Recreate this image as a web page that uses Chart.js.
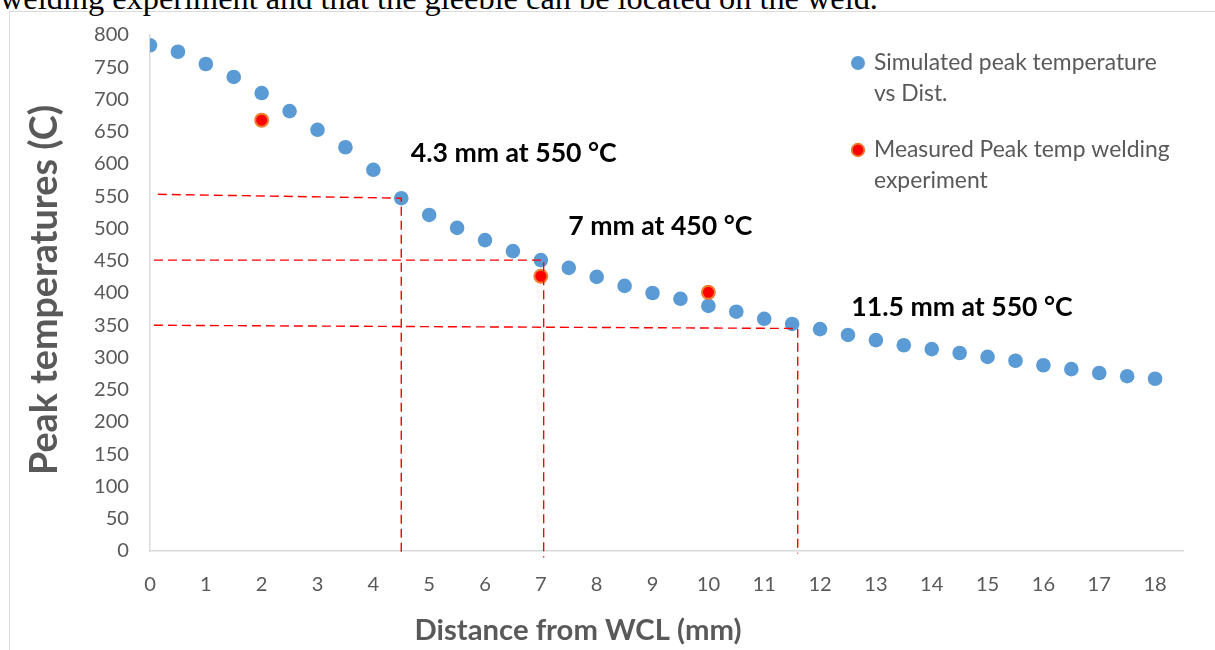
<!DOCTYPE html>
<html><head><meta charset="utf-8">
<script src="https://cdn.jsdelivr.net/npm/chart.js@4.4.1/dist/chart.umd.min.js"></script>
<style>
html,body{margin:0;padding:0;background:#fff;width:1215px;height:650px;overflow:hidden;position:relative}
#frame{position:absolute;left:9px;top:11px;width:1220px;height:700px;border:1px solid #d9d9d9;box-sizing:border-box}
#top{position:absolute;left:0;font-family:"Liberation Serif","Times New Roman",serif;color:#000;white-space:nowrap;line-height:1}
#c{position:absolute;left:0;top:0}
</style></head>
<body>
<div id="frame"></div>
<div id="top">welding experiment and that the gleeble can be located on the weld.</div>
<canvas id="c" width="1215" height="650"></canvas>
<script>
// ---- data ----
const simDist = [0,0.5,1,1.5,2,2.5,3,3.5,4,4.5,5,5.5,6,6.5,7,7.5,8,8.5,9,9.5,10,10.5,11,11.5,12,12.5,13,13.5,14,14.5,15,15.5,16,16.5,17,17.5,18];
const simTemp = [784,774,755,735,710,682,653,626,591,547,521,501,482,465,451,439,425,411,400,391,380,371,360,352,344,335,327,319,313,307,301,295,288,282,276,271,267];
const measDist = [2,7,10];
const measTemp = [668,426,401];
const xTickLabels = [0,1,2,3,4,5,6,7,8,9,10,11,12,13,14,15,16,17,18];
const guide1X = [0.14,4.5,4.5], guide1Y = [553,547,-6];
const guide2X = [0.07,7.05,7.05], guide2Y = [451,451,-10];
const guide3X = [0.07,11.6,11.6], guide3Y = [350,345,-4];
const notes = ["4.3 mm at 550 °C","7 mm at 450 °C","11.5 mm at 550 °C"];
const noteX = [4.67,7.49,12.56];
const noteY = [617,504,378];
const legendLabels = [["Simulated peak temperature","vs Dist."],["Measured Peak temp welding","experiment"]];

const FAM = 'Lato, "Open Sans", sans-serif';
const mc = document.createElement('canvas').getContext('2d');
function fit(text, target, weight, fam){
  mc.font = weight+' 100px '+fam;
  return 100*target/mc.measureText(text).width;
}
// top cut-off text
const topEl = document.getElementById('top');
mc.font = '100px "Liberation Serif"';
const tfs = 100*878/mc.measureText(topEl.textContent).width;
topEl.style.fontSize = tfs+'px';
topEl.style.top = (11 - tfs*0.9)+'px';

const tickSize = fit('800',35,'normal',FAM);
const legSize = fit(legendLabels[0][0],283,'normal',FAM);
const noteSize = fit(notes[0],206,'bold',FAM);
const yTitleSize = fit('Peak temperatures (C)',370,'bold',FAM);
const xTitleSize = fit('Distance from WCL (mm)',327,'bold',FAM);

const pts = (xs,ys)=>xs.map((x,i)=>({x:x,y:ys[i]}));
const guide = (xs,ys)=>({type:'line',data:pts(xs,ys),borderColor:'#FF0000',borderWidth:1.4,borderDash:[9,5],pointRadius:0,fill:false,clip:false,showLine:true,order:0});

const overlay = {
  id:'overlay',
  afterDraw(chart){
    const ctx = chart.ctx, xs = chart.scales.x, ys = chart.scales.y;
    ctx.save();
    // annotations
    ctx.fillStyle = '#000';
    ctx.font = 'bold '+noteSize+'px '+FAM;
    ctx.textBaseline = 'middle'; ctx.textAlign = 'left';
    notes.forEach((t,i)=>ctx.fillText(t, xs.getPixelForValue(noteX[i]), ys.getPixelForValue(noteY[i])));
    // legend
    ctx.font = legSize+'px '+FAM;
    ctx.fillStyle = '#595959';
    const lx = 874, ly = [63,150], lh = 31;
    legendLabels.forEach((lines,i)=>{
      lines.forEach((l,j)=>ctx.fillText(l, lx, ly[i]+j*lh));
    });
    ctx.beginPath(); ctx.arc(858,63,7,0,Math.PI*2); ctx.fillStyle='#5B9BD5'; ctx.fill();
    ctx.beginPath(); ctx.arc(858,150,6.3,0,Math.PI*2); ctx.fillStyle='#FF0000'; ctx.fill();
    ctx.lineWidth=1.8; ctx.strokeStyle='#ED7D31'; ctx.stroke();
    // axis titles
    ctx.fillStyle = '#595959';
    ctx.textAlign = 'center';
    ctx.font = 'bold '+xTitleSize+'px '+FAM;
    ctx.fillText('Distance from WCL (mm)', 578, 631);
    ctx.translate(45,290); ctx.rotate(-Math.PI/2);
    ctx.font = 'bold '+yTitleSize+'px '+FAM;
    ctx.fillText('Peak temperatures (C)', 0, 0);
    ctx.restore();
  }
};

new Chart(document.getElementById('c'), {
  type:'scatter',
  data:{datasets:[
    guide(guide1X,guide1Y), guide(guide2X,guide2Y), guide(guide3X,guide3Y),
    {label:'Measured Peak temp welding experiment',data:pts(measDist,measTemp),backgroundColor:'#FF0000',borderColor:'#ED7D31',borderWidth:2,pointRadius:6.5,order:1},
    {label:'Simulated peak temperature vs Dist.',data:pts(simDist,simTemp),backgroundColor:'#5B9BD5',borderWidth:0,pointRadius:7.3,order:2}
  ]},
  options:{
    responsive:false, animation:false, devicePixelRatio:1,
    layout:{padding:{top:35,right:32,left:0,bottom:0}},
    plugins:{legend:{display:false},tooltip:{enabled:false}},
    scales:{
      x:{type:'linear',min:0,max:18.5,
        afterBuildTicks(s){ s.ticks = xTickLabels.map(v=>({value:v})); },
        afterFit(s){ s.height = 99; },
        grid:{display:false,drawTicks:false},
        border:{display:true,color:'#D9D9D9',width:1.5},
        ticks:{padding:21,font:{family:FAM,size:tickSize},color:'#595959',maxRotation:0,autoSkip:false}
      },
      y:{min:0,max:800,
        ticks:{stepSize:50,padding:21,font:{family:FAM,size:tickSize},color:'#595959'},
        afterFit(s){ s.width = 150; },
        grid:{display:false,drawTicks:false},
        border:{display:true,color:'#D9D9D9',width:1.5}
      }
    }
  },
  plugins:[overlay]
});
</script>
</body></html>
